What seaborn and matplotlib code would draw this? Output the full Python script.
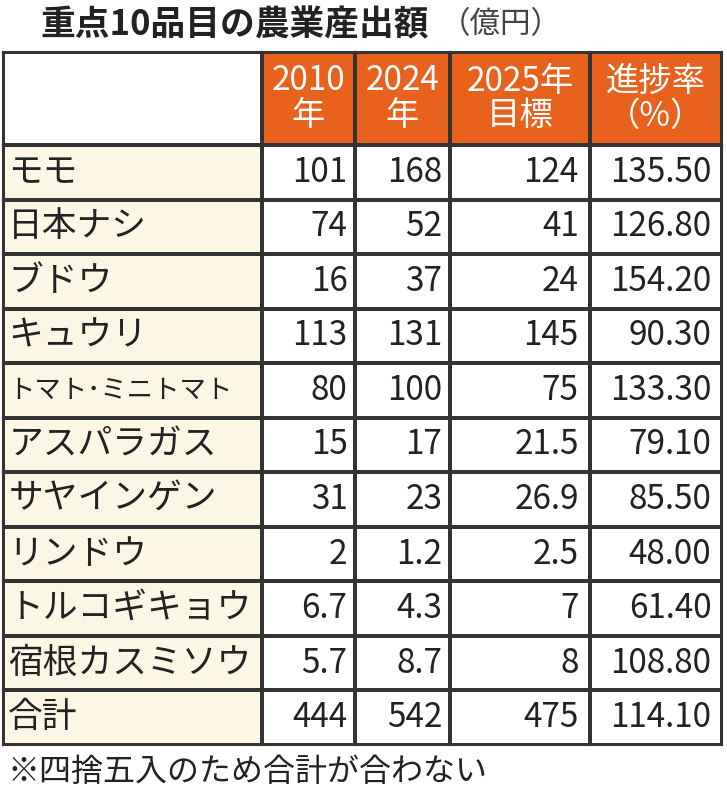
import matplotlib
matplotlib.use("Agg")
import matplotlib.pyplot as plt
import seaborn as sns
import numpy as np
from matplotlib.colors import ListedColormap

sns.set_theme(style="white")
plt.rcParams['font.family'] = ['Noto Sans CJK JP', 'DejaVu Sans']

title = "重点10品目の農業産出額"
unit = "（億円）"
headers = ["2010\n年", "2024\n年", "2025年\n目標", "進捗率\n（%）"]
items = ["モモ", "日本ナシ", "ブドウ", "キュウリ", "トマト･ミニトマト", "アスパラガス",
         "サヤインゲン", "リンドウ", "トルコギキョウ", "宿根カスミソウ", "合計"]
v2010 = ["101", "74", "16", "113", "80", "15", "31", "2", "6.7", "5.7", "444"]
v2024 = ["168", "52", "37", "131", "100", "17", "23", "1.2", "4.3", "8.7", "542"]
v2025 = ["124", "41", "24", "145", "75", "21.5", "26.9", "2.5", "7", "8", "475"]
rate = ["135.50", "126.80", "154.20", "90.30", "133.30", "79.10", "85.50", "48.00",
        "61.40", "108.80", "114.10"]
note = "※四捨五入のため合計が合わない"

W, H = 727, 800
fig = plt.figure(figsize=(W/100, H/100), dpi=100)
cmap = ListedColormap(["#ffffff", "#e8621e", "#fbf7e4"])
y_top, y_hdr, y_bot = 52, 145, 745
xs = [3, 262, 355, 450, 590, 722]

def make_ax(x0, x1, y0, y1, codes):
    ax = fig.add_axes([x0/W, 1-y1/H, (x1-x0)/W, (y1-y0)/H])
    sns.heatmap(codes, ax=ax, cmap=cmap, vmin=0, vmax=2, cbar=False, linewidths=1.5,
                linecolor="#333333", xticklabels=False, yticklabels=False)
    for s in ax.spines.values():
        s.set_visible(True); s.set_color("#333333"); s.set_linewidth(1.5)
    return ax

n = len(items)
# label column
make_ax(xs[0], xs[1], y_top, y_hdr, np.zeros((1, 1)))
axl = make_ax(xs[0], xs[1], y_hdr, y_bot, np.full((n, 1), 2))
for i, t in enumerate(items):
    fs = 19 if len(t) > 7 else 25
    axl.text(0.02, i + 0.5, t, ha="left", va="center", fontsize=fs, color="#222222")
# numeric columns
for j, col in enumerate([v2010, v2024, v2025, rate]):
    axh = make_ax(xs[j+1], xs[j+2], y_top, y_hdr, np.ones((1, 1)))
    axh.text(0.5, 0.5, headers[j], ha="center", va="center", fontsize=24, color="white",
             linespacing=1.0)
    axb = make_ax(xs[j+1], xs[j+2], y_hdr, y_bot, np.zeros((n, 1)))
    for i, v in enumerate(col):
        axb.text(0.92, i + 0.5, v, ha="right", va="center", fontsize=24, color="#222222")

fig.text(40/W, 1-25/H, title, fontsize=25, fontweight="bold", va="center", color="#222222")
fig.text(440/W, 1-25/H, unit, fontsize=22, va="center", color="#444444")
fig.text(8/W, 1-772/H, note, fontsize=23, va="center", color="#222222")
fig.savefig("out.png", dpi=100)
